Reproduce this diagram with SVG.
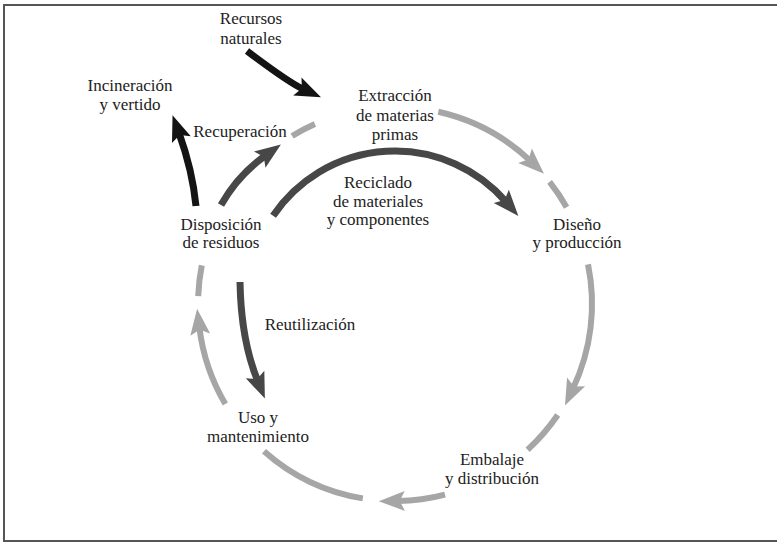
<svg xmlns="http://www.w3.org/2000/svg" width="777" height="543" viewBox="0 0 777 543">
<style>
text{font-size:17px;fill:#222;text-anchor:middle}
.g{fill:none;stroke:#a6a6a6;stroke-width:6}
.d{fill:none;stroke:#474747;stroke-width:7}
.k{fill:none;stroke:#141414;stroke-width:7}
</style>
<defs>
<marker id="ag" markerUnits="userSpaceOnUse" orient="auto" markerWidth="50" markerHeight="50" viewBox="-25 -25 50 50" refX="0" refY="0" overflow="visible"><path d="M19,0 L-7,-10 L-2,0 L-7,10 Z" fill="#a6a6a6"/></marker>
<marker id="ad" markerUnits="userSpaceOnUse" orient="auto" markerWidth="50" markerHeight="50" viewBox="-25 -25 50 50" refX="0" refY="0" overflow="visible"><path d="M19,0 L-7,-10 L-2,0 L-7,10 Z" fill="#474747"/></marker>
<marker id="ak" markerUnits="userSpaceOnUse" orient="auto" markerWidth="50" markerHeight="50" viewBox="-25 -25 50 50" refX="0" refY="0" overflow="visible"><path d="M19,0 L-7,-10 L-2,0 L-7,10 Z" fill="#141414"/></marker>
</defs>
<rect x="4" y="5" width="776" height="536" fill="#fff" stroke="#555" stroke-width="2"/>
<g id="connectors">
<path class="g" d="M292.1,136 A197,197 0 0 1 314.9,124"/>
<path class="g" d="M438.3,111.8 A197,197 0 0 1 530.1,160.6" marker-end="url(#ag)"/>
<path class="g" d="M549.6,181.9 A197,197 0 0 1 566.6,207.3"/>
<path class="g" d="M588,264.4 A197,197 0 0 1 573.1,388.2" marker-end="url(#ag)"/>
<path class="g" d="M557.7,415 A197,197 0 0 1 527.6,449.7"/>
<path class="g" d="M445,494.6 A197,197 0 0 1 397.8,501" marker-end="url(#ag)"/>
<path class="g" d="M362.8,498.4 A197,197 0 0 1 264,451.2"/>
<path class="g" d="M225.3,404 A197,197 0 0 1 199.4,327.7" marker-end="url(#ag)"/>
<path class="g" d="M198.2,296.1 A197,197 0 0 1 201.8,265.4"/>
<path class="k" d="M247,51 Q289,82.7 303.7,89.4" marker-end="url(#ak)"/>
<path class="k" d="M196,206 Q192.4,170 179,133" marker-end="url(#ak)"/>
<path class="d" d="M221,205 Q238,175 265.4,155.6" marker-end="url(#ad)"/>
<path class="d" d="M273.1,215.8 A147,147 0 0 1 505.9,201.6" marker-end="url(#ad)"/>
<path class="d" d="M240,282 Q241,340 257.7,381" marker-end="url(#ad)"/>
</g>
<g font-family="Liberation Serif, DejaVu Serif, serif">
<g id="recursos"><text x="251" y="24">Recursos</text><text x="251" y="44">naturales</text></g>
<g id="incineracion"><text x="130" y="91">Incineración</text><text x="130" y="110">y vertido</text></g>
<g id="recuperacion"><text x="240" y="137">Recuperación</text></g>
<g id="extraccion"><text x="395" y="101">Extracción</text><text x="395" y="121">de materias</text><text x="395" y="140">primas</text></g>
<g id="reciclado"><text x="378" y="188">Reciclado</text><text x="378" y="207">de materiales</text><text x="378" y="225">y componentes</text></g>
<g id="diseno"><text x="577" y="230">Diseño</text><text x="577" y="248">y producción</text></g>
<g id="disposicion"><text x="221" y="230">Disposición</text><text x="221" y="248">de residuos</text></g>
<g id="reutilizacion"><text x="310" y="330">Reutilización</text></g>
<g id="uso"><text x="258" y="423">Uso y</text><text x="258" y="442">mantenimiento</text></g>
<g id="embalaje"><text x="492" y="465">Embalaje</text><text x="492" y="484">y distribución</text></g>
</g>
</svg>
